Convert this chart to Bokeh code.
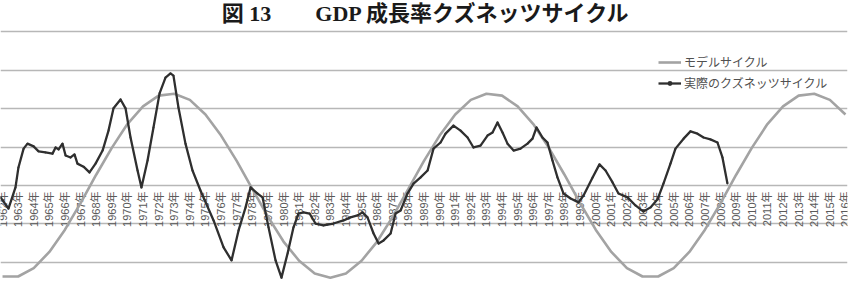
from math import pi
from bokeh.plotting import figure
from bokeh.models import (ColumnDataSource, Range1d, Grid, FixedTicker, Label,
                          Legend, LegendItem)
from bokeh.core.properties import value
from bokeh.embed import file_html
from bokeh.resources import INLINE

# ---------------- data ----------------
title_text = "図 13　　GDP 成長率クズネッツサイクル"
model_name = "モデルサイクル"
actual_name = "実際のクズネッツサイクル"

years = list(range(1962, 2017))
tick_labels = [f"{y}年" for y in years]

model_values = [
    -2.37, -2.37, -2.15, -1.73, -1.15, -0.46, 0.28, 0.98, 1.60, 2.06,
    2.34, 2.39, 2.23, 1.85, 1.30, 0.64, -0.09, -0.81, -1.46, -1.96,
    -2.29, -2.40, -2.29, -1.96, -1.46, -0.81, -0.09, 0.64, 1.30, 1.85,
    2.23, 2.39, 2.34, 2.06, 1.60, 0.98, 0.28, -0.46, -1.15, -1.73,
    -2.15, -2.37, -2.37, -2.15, -1.73, -1.15, -0.46, 0.28, 0.98, 1.60,
    2.06, 2.34, 2.39, 2.23, 1.85,
]

actual_time = [
    1961.87, 1962.38, 1962.83, 1963.02, 1963.35, 1963.60, 1963.99, 1964.31,
    1964.75, 1965.20, 1965.40, 1965.59, 1965.84, 1966.04, 1966.36, 1966.61,
    1966.80, 1967.19, 1967.57, 1967.96, 1968.41, 1968.79, 1969.11, 1969.56,
    1969.88, 1970.20, 1970.65, 1970.90, 1971.29, 1971.67, 1972.06, 1972.44,
    1972.76, 1972.95, 1973.27, 1973.72, 1974.17, 1974.68, 1975.52, 1976.16,
    1976.67, 1977.12, 1977.57, 1977.89, 1978.34, 1978.66, 1979.04, 1979.49,
    1979.87, 1980.26, 1980.64, 1980.96, 1981.28, 1981.67, 1982.05, 1982.56,
    1983.20, 1983.84, 1984.29, 1984.74, 1985.06, 1985.38, 1985.77, 1986.09,
    1986.41, 1986.86, 1987.18, 1987.50, 1987.94, 1988.33, 1988.78, 1989.23,
    1989.61, 1990.06, 1990.38, 1990.89, 1991.34, 1991.79, 1992.17, 1992.62,
    1993.07, 1993.39, 1993.71, 1994.03, 1994.35, 1994.74, 1995.18, 1995.63,
    1995.95, 1996.21, 1996.59, 1996.91, 1997.23, 1997.55, 1997.94, 1998.39,
    1998.90, 1999.22, 1999.80, 2000.24, 2000.63, 2001.08, 2001.46, 2002.04,
    2002.55, 2003.06, 2003.51, 2003.96, 2004.34, 2004.79, 2005.11, 2005.63,
    2006.07, 2006.52, 2006.91, 2007.35, 2007.80, 2008.12, 2008.44,
]
actual_values = [
    -0.31, -0.60, -0.05, 0.47, 0.96, 1.09, 1.02, 0.89,
    0.86, 0.83, 0.99, 0.94, 1.09, 0.78, 0.73, 0.81,
    0.57, 0.49, 0.34, 0.57, 0.91, 1.43, 2.01, 2.24,
    2.01, 1.25, 0.39, -0.05, 0.65, 1.51, 2.40, 2.81,
    2.92, 2.86, 2.03, 1.09, 0.39, -0.13, -0.91, -1.61,
    -1.95, -1.17, -0.57, -0.05, -0.21, -0.31, -1.09, -1.95,
    -2.40, -1.77, -1.09, -0.73, -0.70, -0.73, -0.99, -1.04,
    -0.99, -0.91, -0.83, -0.78, -0.70, -0.83, -1.25, -1.51,
    -1.43, -1.25, -0.73, -0.65, -0.21, 0.05, 0.21, 0.39,
    0.96, 1.12, 1.35, 1.56, 1.43, 1.25, 0.99, 1.04,
    1.30, 1.38, 1.64, 1.38, 1.09, 0.91, 0.96, 1.09,
    1.22, 1.51, 1.25, 1.12, 0.65, 0.21, -0.21, -0.34,
    -0.44, -0.26, 0.21, 0.55, 0.39, 0.08, -0.21, -0.31,
    -0.52, -0.68, -0.57, -0.36, 0.05, 0.57, 0.96, 1.22,
    1.41, 1.35, 1.25, 1.20, 1.12, 0.73, 0.05,
]

grid_values = [-2, -1, 0, 1, 2, 3, 4]

# ---------------- figure ----------------
W, H = 855, 297
p = figure(width=W, height=H, output_backend="svg", toolbar_location=None,
           x_axis_location=None, y_axis_location=None,
           min_border_left=0, min_border_top=0, min_border_bottom=0,
           min_border_right=8)
p.x_range = Range1d(1961.87, 2016.13)
p.y_range = Range1d(-2.917, 4.818)
p.outline_line_color = None
p.background_fill_color = "white"
p.border_fill_color = "white"
for g in list(p.grid):
    g.visible = False

grid = Grid(dimension=1, ticker=FixedTicker(ticks=grid_values),
            grid_line_color="#b7b7b7", grid_line_width=1.5)
p.add_layout(grid, "center")

# category labels along the zero line
lab_src = ColumnDataSource(dict(x=years, y=[0] * len(years), text=tick_labels))
p.text(x="x", y="y", text="text", source=lab_src, angle=pi / 2,
       text_align="right", text_baseline="middle", y_offset=6,
       text_font=value("'Liberation Sans', 'Noto Sans CJK JP'"),
       text_font_size="11px", text_color="#5a5a5a")

model_src = ColumnDataSource(dict(x=years, y=model_values))
r_model = p.line("x", "y", source=model_src, line_color="#a3a3a3",
                 line_width=2.6)

act_src = ColumnDataSource(dict(x=actual_time, y=actual_values))
r_act = p.line("x", "y", source=act_src, line_color="#2f2f2f", line_width=2.3,
               line_join="round")
r_act_pts = p.scatter("x", "y", source=act_src, size=2, marker="circle",
                      fill_color="#2f2f2f", line_color=None)

legend = Legend(items=[LegendItem(label=model_name, renderers=[r_model]),
                       LegendItem(label=actual_name, renderers=[r_act, r_act_pts])],
                location=(658, 206), orientation="vertical",
                padding=0, margin=0, spacing=4, glyph_width=23,
                glyph_height=12, label_height=12, label_standoff=3,
                label_text_font="'Noto Sans CJK JP'",
                label_text_font_size="12px", label_text_color="#505050",
                background_fill_alpha=0, border_line_color=None)
p.add_layout(legend)

title = Label(x=426, y=H - 13, x_units="screen", y_units="screen",
              text=title_text, text_align="center", text_baseline="middle",
              text_font="'Liberation Serif', 'Noto Sans CJK JP'",
              text_font_size="22px", text_font_style="bold",
              text_color="#1a1a1a")
p.add_layout(title)

open("out.html", "w").write(file_html(p, INLINE))
